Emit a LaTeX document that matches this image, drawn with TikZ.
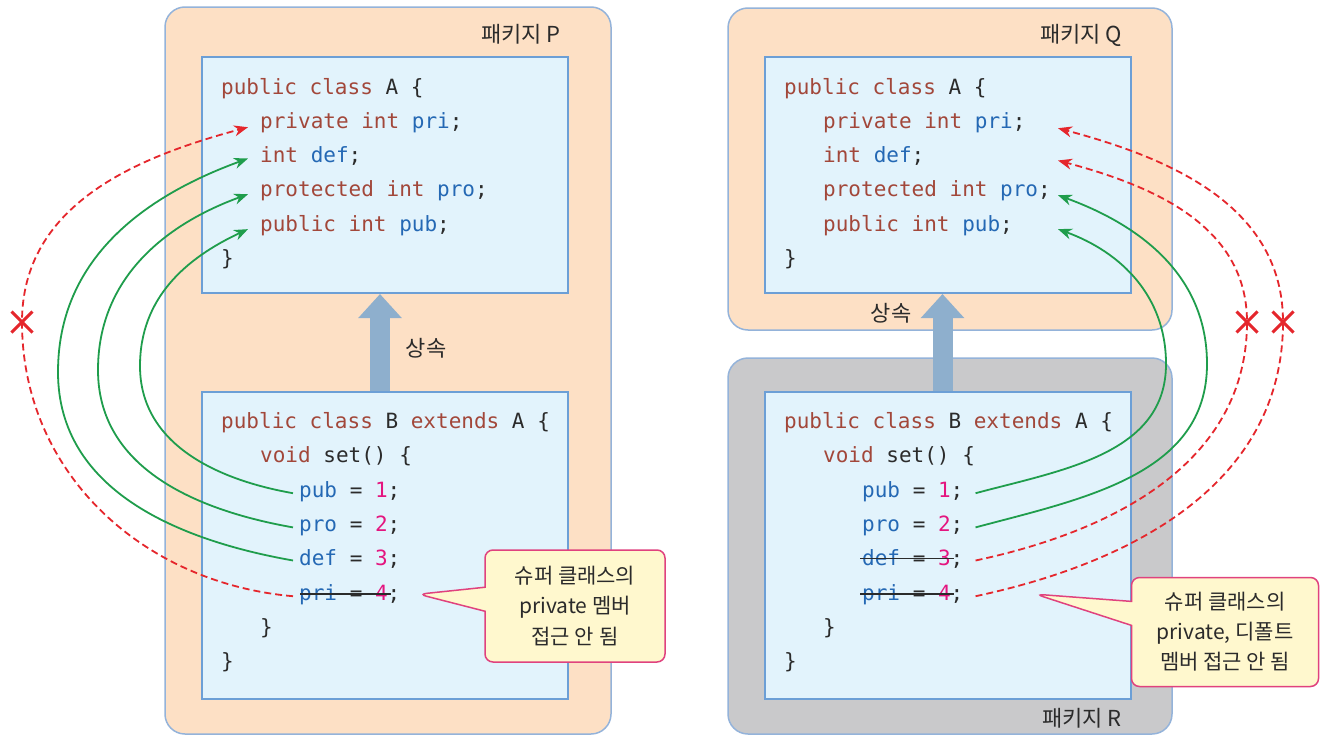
\documentclass[tikz,border=0pt]{standalone}
\usepackage{fontspec}
\setmainfont{Noto Sans CJK KR}
\newfontfamily\codefont{DejaVu Sans Mono}
\usetikzlibrary{arrows.meta, shapes.callouts, shapes.misc, positioning}

\definecolor{pkgfill}{HTML}{FDE0C5}
\definecolor{pkggray}{HTML}{C9C9CB}
\definecolor{pkgline}{HTML}{94B3DA}
\definecolor{classfill}{HTML}{E2F3FC}
\definecolor{classline}{HTML}{6C9FD6}
\definecolor{inhblue}{HTML}{8EAFCD}
\definecolor{kwred}{HTML}{A2473A}
\definecolor{idblue}{HTML}{2468B4}
\definecolor{numpink}{HTML}{E4157F}
\definecolor{codedark}{HTML}{2B2B2B}
\definecolor{okgreen}{HTML}{1F9D4C}
\definecolor{nored}{HTML}{E5262C}
\definecolor{calloutpink}{HTML}{E0427E}
\definecolor{calloutfill}{HTML}{FFF8CE}

\newcommand{\kwd}[1]{\textcolor{kwred}{#1}}
\newcommand{\vname}[1]{\textcolor{idblue}{#1}}
\newcommand{\vval}[1]{\textcolor{numpink}{#1}}

\tikzstyle{package} = [rectangle, rounded corners=20pt, draw=pkgline, line width=1.5pt, fill=pkgfill]
\tikzstyle{classbox} = [rectangle, draw=classline, line width=2pt, fill=classfill, minimum width=366pt]
\tikzstyle{codeline} = [anchor=base west, inner sep=0pt, text=codedark, font=\codefont\fontsize{21}{25}\selectfont]
\tikzstyle{pkglabel} = [inner sep=0pt, text=codedark, font=\fontsize{22}{26}\selectfont]
\tikzstyle{inherit} = [draw=inhblue, line width=20pt, -{Triangle[length=24pt,width=42pt]}]
\tikzstyle{okarrow} = [draw=okgreen, line width=1.8pt, -{Stealth[length=14pt,width=11pt]}]
\tikzstyle{noarrow} = [draw=nored, line width=1.8pt, dash pattern=on 7pt off 4pt, -{Stealth[length=14pt,width=11pt]}]
\tikzstyle{nogo} = [cross out, draw=nored, line width=3pt, minimum size=18pt, inner sep=0pt]
\tikzstyle{struck} = [draw=codedark, line width=1.5pt]
\tikzstyle{remark} = [rectangle callout, draw=calloutpink, line width=1.5pt, fill=calloutfill, rounded corners=8pt, callout pointer width=24pt, align=center, text=codedark, font=\fontsize{21}{30}\selectfont]

\begin{document}
\begin{tikzpicture}[x=1pt, y=-1pt]
\path[use as bounding box, fill=white] (0,0) rectangle (1327,736);

% packages
\node[package, minimum width=446pt, minimum height=727pt] (pkgP) at (388,370.5) {};
\node[package, minimum width=444pt, minimum height=322pt] (pkgQ) at (950,169) {};
\node[package, fill=pkggray, minimum width=444pt, minimum height=376pt] (pkgR) at (950,546) {};
\node[pkglabel] (nameP) at (521,34) {패키지 P};
\node[pkglabel] (nameQ) at (1081,35) {패키지 Q};
\node[pkglabel] (nameR) at (1082,718) {패키지 R};

% classes
\node[classbox, minimum height=236pt] (classPA) at (385,175) {};
\node[classbox, minimum height=307pt] (classPB) at (385,545.5) {};
\node[classbox, minimum height=236pt] (classQA) at (947.5,175) {};
\node[classbox, minimum height=307pt] (classRB) at (947.5,545.5) {};

% inheritance
\draw[inherit] ([xshift=-5pt]classPB.north) -- ([xshift=-5pt]classPA.south);
\node[pkglabel] (inhP) at (426,348) {상속};
\draw[inherit] ([xshift=-5pt]classRB.north) -- ([xshift=-5pt]classQA.south);
\node[pkglabel] (inhQ) at (891,313) {상속};

% code in package P
\node[codeline] (aHeadP) at (221,94) {\kwd{public} \kwd{class} A \{};
\node[codeline] (aPri) at (260,128) {\kwd{private} \kwd{int} \vname{pri};};
\node[codeline] (aDef) at (260,162) {\kwd{int} \vname{def};};
\node[codeline] (aPro) at (260,196) {\kwd{protected} \kwd{int} \vname{pro};};
\node[codeline] (aPub) at (260,231) {\kwd{public} \kwd{int} \vname{pub};};
\node[codeline] (aEndP) at (221,265) {\}};

\node[codeline] (bHeadP) at (221,428) {\kwd{public} \kwd{class} B \kwd{extends} A \{};
\node[codeline] (bSetP) at (260,462) {\kwd{void} set() \{};
\node[codeline] (bPub) at (299,497) {\vname{pub} = \vval{1};};
\node[codeline] (bPro) at (299,531) {\vname{pro} = \vval{2};};
\node[codeline] (bDef) at (299,565) {\vname{def} = \vval{3};};
\node[codeline] (bPri) at (299,600) {\vname{pri} = \vval{4};};
\node[codeline] (bSetEndP) at (260,634) {\}};
\node[codeline] (bEndP) at (221,668) {\}};
\draw[struck] ([xshift=1pt]bPri.west) -- ++(91,0);

% code in packages Q and R
\node[codeline] (qHead) at (784,94) {\kwd{public} \kwd{class} A \{};
\node[codeline] (qPri) at (823,128) {\kwd{private} \kwd{int} \vname{pri};};
\node[codeline] (qDef) at (823,162) {\kwd{int} \vname{def};};
\node[codeline] (qPro) at (823,196) {\kwd{protected} \kwd{int} \vname{pro};};
\node[codeline] (qPub) at (823,231) {\kwd{public} \kwd{int} \vname{pub};};
\node[codeline] (qEnd) at (784,265) {\}};

\node[codeline] (rHead) at (784,428) {\kwd{public} \kwd{class} B \kwd{extends} A \{};
\node[codeline] (rSet) at (823,462) {\kwd{void} set() \{};
\node[codeline] (rPub) at (862,497) {\vname{pub} = \vval{1};};
\node[codeline] (rPro) at (862,531) {\vname{pro} = \vval{2};};
\node[codeline] (rDef) at (862,565) {\vname{def} = \vval{3};};
\node[codeline] (rPri) at (862,600) {\vname{pri} = \vval{4};};
\node[codeline] (rSetEnd) at (823,634) {\}};
\node[codeline] (rEnd) at (784,668) {\}};
\draw[struck] ([xshift=-2pt]rDef.west) -- ++(94,0);
\draw[struck] ([xshift=-2pt]rPri.west) -- ++(94,0);

% access in package P
\coordinate (xP) at (22,322);
\coordinate (bendDef) at (58,372);
\coordinate (bendPro) at (98,370);
\coordinate (bendPub) at (140,366);
\draw[noarrow] ([xshift=-6pt,yshift=-2pt]bPri.west) to[out=175,in=-90] (xP) to[out=90,in=195] ([xshift=-12pt,yshift=-5pt]aPri.west);
\draw[okarrow] ([xshift=-6pt,yshift=-2pt]bDef.west) to[out=170,in=-90] (bendDef) to[out=90,in=200] ([xshift=-12pt,yshift=-3pt]aDef.west);
\draw[okarrow] ([xshift=-6pt,yshift=-2pt]bPro.west) to[out=170,in=-90] (bendPro) to[out=90,in=200] ([xshift=-12pt,yshift=-4pt]aPro.west);
\draw[okarrow] ([xshift=-6pt,yshift=-2pt]bPub.west) to[out=170,in=-90] (bendPub) to[out=90,in=205] ([xshift=-12pt,yshift=-4pt]aPub.west);
\node[nogo] (xPmark) at (xP) {};

% access from package R
\coordinate (qTip) at (1058,0);
\coordinate (bendRPub) at (1166,364);
\coordinate (bendRPro) at (1207,364);
\coordinate (xQDef) at (1247,322);
\coordinate (xQPri) at (1283,322);
\draw[okarrow] ([xshift=12pt,yshift=-2pt]rPub.east) to[out=15,in=-90] (bendRPub) to[out=90,in=-20] ([yshift=-4pt]qTip |- qPub.east);
\draw[okarrow] ([xshift=12pt,yshift=-2pt]rPro.east) to[out=15,in=-90] (bendRPro) to[out=90,in=-20] ([yshift=-5pt]qTip |- qPro.east);
\draw[noarrow] ([xshift=12pt,yshift=-2pt]rDef.east) to[out=12,in=-90] (xQDef) to[out=90,in=-15] ([yshift=-5pt]qTip |- qDef.east);
\draw[noarrow] ([xshift=12pt,yshift=-2pt]rPri.east) to[out=12,in=-90] (xQPri) to[out=90,in=-15] ([yshift=-6pt]qTip |- qPri.east);
\node[nogo] (xQDefmark) at (xQDef) {};
\node[nogo] (xQPrimark) at (xQPri) {};

% notes
\node[remark, minimum width=180pt, minimum height=112pt, callout absolute pointer={([xshift=18pt]bPri.east)}] (noteP) at (575,606) {슈퍼 클래스의\\private 멤버\\접근 안 됨};
\node[remark, minimum width=187pt, minimum height=109pt, callout absolute pointer={([xshift=72pt]rPri.east)}] (noteR) at (1225,632) {슈퍼 클래스의\\private, 디폴트\\멤버 접근 안 됨};

\end{tikzpicture}
\end{document}
